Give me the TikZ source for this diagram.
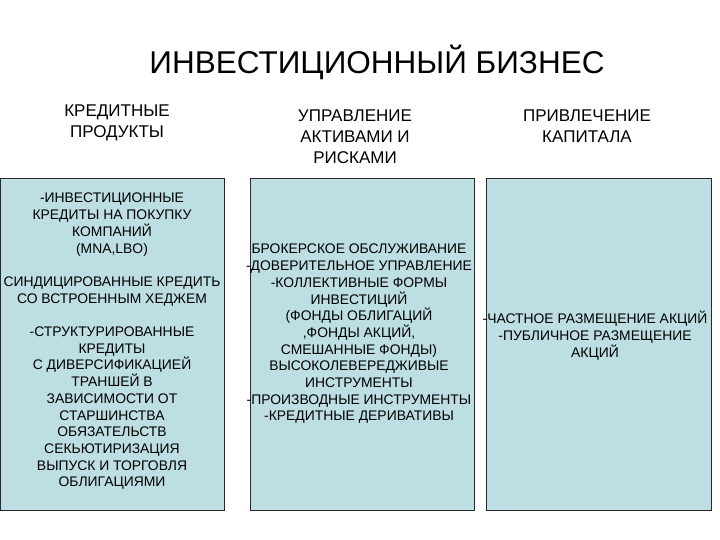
\documentclass[tikz,border=0pt]{standalone}
\usepackage{fontspec}
\setmainfont{Liberation Sans}
\definecolor{boxfill}{RGB}{189,222,226}
\definecolor{boxline}{RGB}{40,40,40}
\begin{document}
\begin{tikzpicture}[x=1pt,y=-1pt,
  col/.style={draw=boxline,fill=boxfill,line width=1pt},
  body/.style={align=center,font=\fontsize{13.9}{16.7}\selectfont,inner sep=0pt},
  head/.style={align=center,font=\fontsize{17}{21}\selectfont,inner sep=0pt}]
\useasboundingbox (0,0) rectangle (720,540);
\draw[col] (0,179) rectangle (224,510);
\draw[col] (250,179) rectangle (474,510);
\draw[col] (486,179) rectangle (711,510);
\node[font=\fontsize{31.5}{36}\selectfont,inner sep=0pt] (title) at (377,62) {ИНВЕСТИЦИОННЫЙ БИЗНЕС};
\node[head,anchor=north] (h1) at (117,105) {КРЕДИТНЫЕ\\ПРОДУКТЫ};
\node[head,anchor=north] (h2) at (355,110) {УПРАВЛЕНИЕ\\АКТИВАМИ И\\РИСКАМИ};
\node[head,anchor=north] (h3) at (587,110) {ПРИВЛЕЧЕНИЕ\\КАПИТАЛА};
\node[body,anchor=north] (b1) at (112,193) {-ИНВЕСТИЦИОННЫЕ\\КРЕДИТЫ НА ПОКУПКУ\\КОМПАНИЙ\\(MNA,LBO)\\[16.7pt]СИНДИЦИРОВАННЫЕ КРЕДИТЬ\\СО ВСТРОЕННЫМ ХЕДЖЕМ\\[16.7pt]-СТРУКТУРИРОВАННЫЕ\\КРЕДИТЫ\\С ДИВЕРСИФИКАЦИЕЙ\\ТРАНШЕЙ В\\ЗАВИСИМОСТИ ОТ\\СТАРШИНСТВА\\ОБЯЗАТЕЛЬСТВ\\СЕКЬЮТИРИЗАЦИЯ\\ВЫПУСК И ТОРГОВЛЯ\\ОБЛИГАЦИЯМИ};
\node[body,anchor=north] (b2) at (359,244) {БРОКЕРСКОЕ ОБСЛУЖИВАНИЕ\\-ДОВЕРИТЕЛЬНОЕ УПРАВЛЕНИЕ\\-КОЛЛЕКТИВНЫЕ ФОРМЫ\\ИНВЕСТИЦИЙ\\(ФОНДЫ ОБЛИГАЦИЙ\\,ФОНДЫ АКЦИЙ,\\СМЕШАННЫЕ ФОНДЫ)\\ВЫСОКОЛЕВЕРЕДЖИВЫЕ\\ИНСТРУМЕНТЫ\\-ПРОИЗВОДНЫЕ ИНСТРУМЕНТЫ\\-КРЕДИТНЫЕ ДЕРИВАТИВЫ};
\node[body,anchor=north] (b3) at (595,311) {-ЧАСТНОЕ РАЗМЕЩЕНИЕ АКЦИЙ\\-ПУБЛИЧНОЕ РАЗМЕЩЕНИЕ\\АКЦИЙ};
\end{tikzpicture}
\end{document}
